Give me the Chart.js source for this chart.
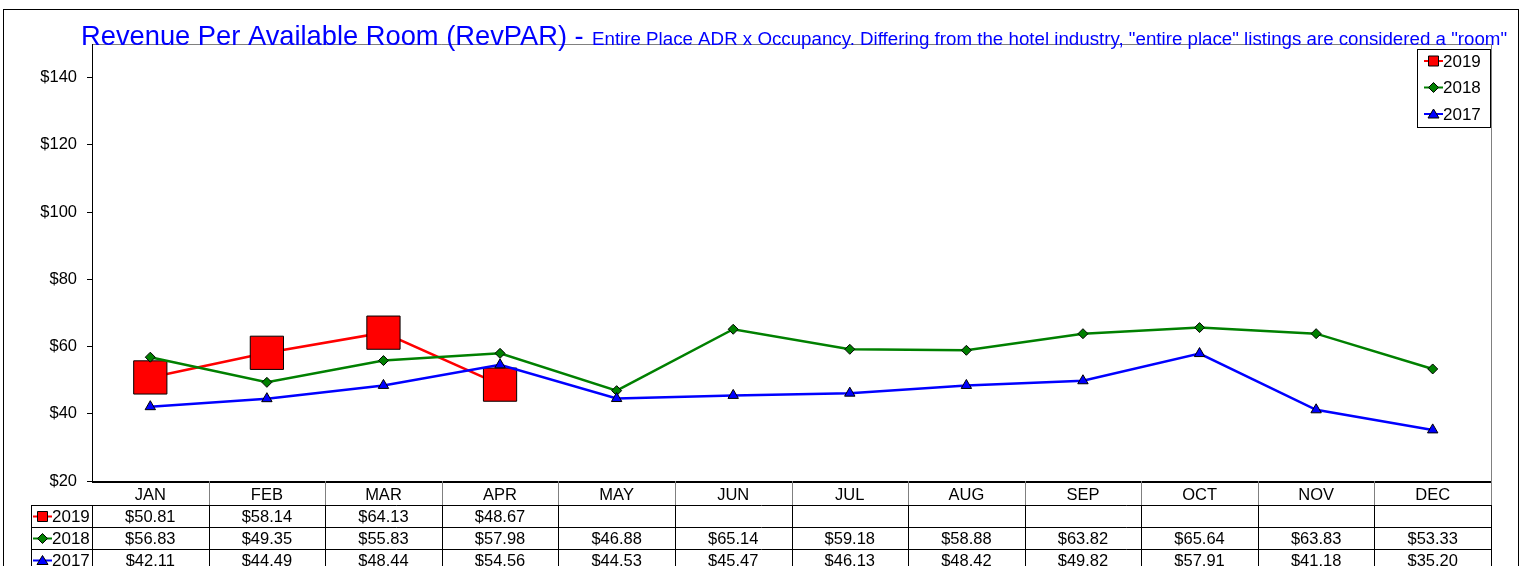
<!DOCTYPE html>
<html>
<head>
<meta charset="utf-8">
<title>RevPAR</title>
<script src="https://cdn.jsdelivr.net/npm/chart.js@4.4.1/dist/chart.umd.min.js"></script>
<style>
  html, body { margin: 0; padding: 0; background: #fff; }
  #wrap { width: 1524px; height: 566px; }
</style>
</head>
<body>
<div id="wrap"><canvas id="chart" width="1524" height="566"></canvas></div>
<script>
// Daten
const months = ['JAN', 'FEB', 'MAR', 'APR', 'MAY', 'JUN', 'JUL', 'AUG', 'SEP', 'OCT', 'NOV', 'DEC'];
const rev2019 = [50.81, 58.14, 64.13, 48.67, null, null, null, null, null, null, null, null];
const rev2018 = [56.83, 49.35, 55.83, 57.98, 46.88, 65.14, 59.18, 58.88, 63.82, 65.64, 63.83, 53.33];
const rev2017 = [42.11, 44.49, 48.44, 54.56, 44.53, 45.47, 46.13, 48.42, 49.82, 57.91, 41.18, 35.20];
const yTicks = [20, 40, 60, 80, 100, 120, 140];

const titleMain = 'Revenue Per Available Room (RevPAR) -';
const titleSub = 'Entire Place ADR x Occupancy. Differing from the hotel industry, "entire place" listings are considered a "room"';

const FONT = "'Liberation Sans', Arial, sans-serif";

const seriesStyle = [
    { label: '2019', data: rev2019, color: '#ff0000', shape: 'square' },
    { label: '2018', data: rev2018, color: '#008000', shape: 'diamond' },
    { label: '2017', data: rev2017, color: '#0000ff', shape: 'triangle' },
];

// kleiner Marker für Legende und Tabelle
function marker(ctx, shape, x, y, color) {
    ctx.save();
    ctx.fillStyle = color;
    ctx.strokeStyle = '#000';
    ctx.lineWidth = 1;
    ctx.beginPath();
    if (shape === 'square') {
        ctx.rect(x - 5, y - 5, 10, 10);
    } else if (shape === 'diamond') {
        ctx.moveTo(x, y - 5); ctx.lineTo(x + 5, y); ctx.lineTo(x, y + 5); ctx.lineTo(x - 5, y);
        ctx.closePath();
    } else {
        ctx.moveTo(x, y - 5); ctx.lineTo(x + 5.5, y + 4); ctx.lineTo(x - 5.5, y + 4);
        ctx.closePath();
    }
    ctx.fill();
    ctx.stroke();
    ctx.restore();
}

function seriesKey(ctx, s, x, y) {
    ctx.save();
    ctx.strokeStyle = s.color;
    ctx.lineWidth = 2;
    ctx.beginPath();
    ctx.moveTo(x, y); ctx.lineTo(x + 19, y);
    ctx.stroke();
    ctx.restore();
    marker(ctx, s.shape, x + 9.5, y, s.color);
    ctx.fillStyle = '#000';
    ctx.font = '17px ' + FONT;
    ctx.textAlign = 'left';
    ctx.textBaseline = 'middle';
    ctx.fillText(s.label, x + 19, y + 1);
}

// Schriftgröße so wählen, dass der Text in die Breite passt
function fitFont(ctx, text, width) {
    ctx.font = '20px ' + FONT;
    return 20 * width / ctx.measureText(text).width;
}

const framePlugin = {
    id: 'frame',
    beforeDraw(chart) {
        const ctx = chart.ctx;
        ctx.save();
        ctx.fillStyle = '#fff';
        ctx.fillRect(0, 0, chart.width, chart.height);
        ctx.strokeStyle = '#000';
        ctx.lineWidth = 1;
        ctx.strokeRect(3.5, 9.5, 1515, 600);
        ctx.restore();
    },
    afterDraw(chart) {
        const ctx = chart.ctx;
        const a = chart.chartArea;
        const xs = chart.scales.x;
        ctx.save();

        // Plotrahmen
        ctx.lineWidth = 1;
        ctx.strokeStyle = '#808080';
        ctx.beginPath();
        ctx.moveTo(a.left, a.top + 0.5); ctx.lineTo(a.right + 0.5, a.top + 0.5); ctx.lineTo(a.right + 0.5, a.bottom);
        ctx.stroke();
        ctx.strokeStyle = '#000';
        ctx.beginPath();
        ctx.moveTo(a.left + 0.5, a.top); ctx.lineTo(a.left + 0.5, a.bottom);
        ctx.stroke();
        ctx.lineWidth = 2;
        ctx.beginPath();
        ctx.moveTo(a.left, a.bottom + 1); ctx.lineTo(a.right + 1, a.bottom + 1);
        ctx.stroke();

        // Titel
        ctx.fillStyle = '#0000ff';
        ctx.textAlign = 'left';
        ctx.textBaseline = 'alphabetic';
        const mainSize = fitFont(ctx, titleMain, 503);
        const subSize = fitFont(ctx, titleSub, 916);
        ctx.font = mainSize + 'px ' + FONT;
        ctx.fillText(titleMain, 81, 45);
        ctx.font = subSize + 'px ' + FONT;
        ctx.fillText(titleSub, 592, 45);

        // Legende
        ctx.fillStyle = '#fff';
        ctx.fillRect(1417, 49, 73, 78);
        ctx.strokeStyle = '#000';
        ctx.lineWidth = 1;
        ctx.strokeRect(1417.5, 49.5, 73, 78);
        seriesStyle.forEach((s, i) => seriesKey(ctx, s, 1424, 61 + i * 26.5));

        // Datentabelle
        const colW = (a.right - a.left) / months.length;
        const rowTop = [a.bottom + 24, a.bottom + 46, a.bottom + 68, a.bottom + 90];
        ctx.lineWidth = 1;
        ctx.strokeStyle = '#808080';
        ctx.beginPath();
        for (let k = 1; k <= months.length; k++) {
            const x = Math.round(a.left + k * colW) + 0.5;
            ctx.moveTo(x, a.bottom); ctx.lineTo(x, rowTop[0]);
        }
        ctx.stroke();
        ctx.strokeStyle = '#000';
        ctx.beginPath();
        for (let k = 0; k <= months.length; k++) {
            const x = Math.round(a.left + k * colW) + 0.5;
            ctx.moveTo(x, rowTop[0]); ctx.lineTo(x, chart.height);
        }
        ctx.moveTo(31.5, rowTop[0]); ctx.lineTo(31.5, chart.height);
        rowTop.forEach(y => { ctx.moveTo(31, y + 0.5); ctx.lineTo(a.right + 1, y + 0.5); });
        ctx.stroke();

        seriesStyle.forEach((s, r) => {
            const cy = rowTop[r] + 11.5;
            seriesKey(ctx, s, 33, cy);
            ctx.font = '16.5px ' + FONT;
            ctx.textAlign = 'center';
            ctx.textBaseline = 'middle';
            ctx.fillStyle = '#000';
            s.data.forEach((v, i) => {
                if (v === null) return;
                ctx.fillText('$' + v.toFixed(2), xs.getPixelForValue(i), cy + 1);
            });
        });
        ctx.restore();
    }
};

const pointSizes = { square: 23.5, diamond: 5, triangle: 6 };
const pointShapes = { square: 'rect', diamond: 'rectRot', triangle: 'triangle' };

new Chart(document.getElementById('chart'), {
    type: 'line',
    data: {
        labels: months,
        datasets: seriesStyle.map((s, i) => ({
            label: s.label,
            data: s.data,
            borderColor: s.color,
            backgroundColor: s.color,
            borderWidth: 2.5,
            pointStyle: pointShapes[s.shape],
            pointRadius: pointSizes[s.shape],
            pointBackgroundColor: s.color,
            pointBorderColor: '#000',
            pointBorderWidth: 1,
            tension: 0,
            spanGaps: false,
            order: 3 - i,
        }))
    },
    options: {
        responsive: false,
        devicePixelRatio: 1,
        animation: false,
        layout: { padding: { top: 44, right: 33, bottom: 0, left: 0 } },
        plugins: {
            legend: { display: false },
            title: { display: false },
            tooltip: { enabled: false },
        },
        scales: {
            x: {
                offset: true,
                grid: { display: false },
                border: { display: false },
                ticks: { color: '#000', font: { family: FONT, size: 16.5 }, padding: -3, maxRotation: 0, autoSkip: false },
                afterFit(scale) { scale.height = 85; },
            },
            y: {
                min: 20,
                max: 150,
                grid: { drawOnChartArea: false, tickLength: 5, color: '#000' },
                border: { display: false },
                ticks: {
                    color: '#000',
                    font: { family: FONT, size: 16.5 },
                    padding: 10,
                    callback: v => '$' + v,
                },
                afterBuildTicks(scale) { scale.ticks = yTicks.map(v => ({ value: v })); },
                afterFit(scale) { scale.width = 92; },
            }
        }
    },
    plugins: [framePlugin]
});
</script>
</body>
</html>
